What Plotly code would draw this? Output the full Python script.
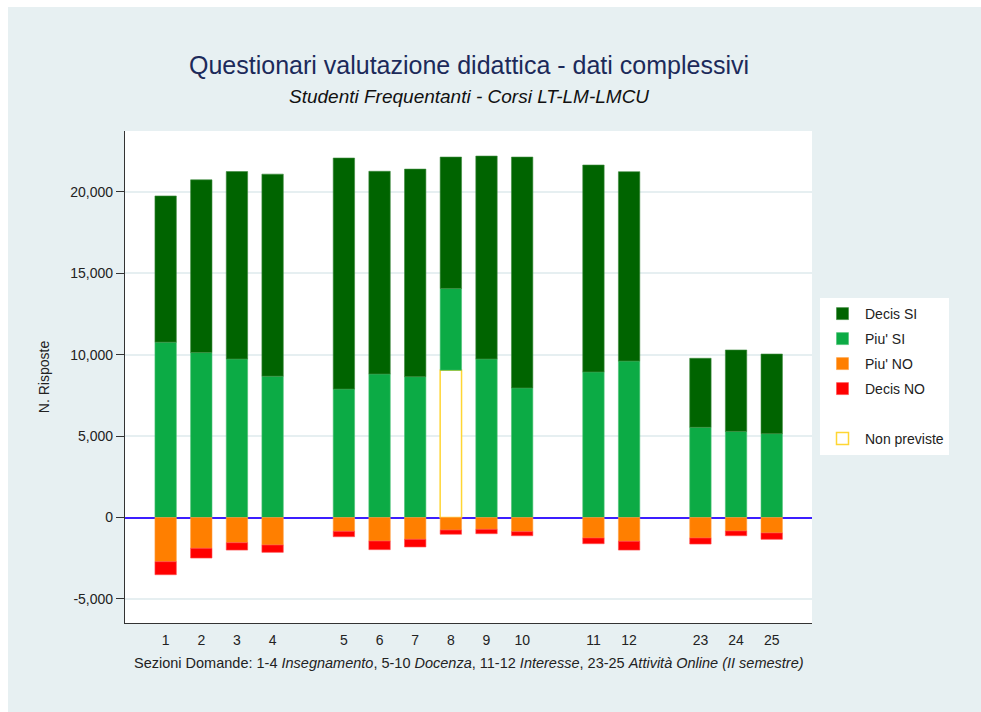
import plotly.graph_objects as go

# ---- data ----
questions = ["1", "2", "3", "4", "5", "6", "7", "8", "9", "10", "11", "12", "23", "24", "25"]
# numeric slots on the x axis (gaps between the sections)
slots = [1, 2, 3, 4, 6, 7, 8, 9, 10, 11, 13, 14, 16, 17, 18]

decis_si = [8980, 10610, 11510, 12410, 14190, 12450, 12750, 8070, 12460, 14180, 12710, 11630, 4240, 5000, 4890]
piu_si = [10770, 10130, 9740, 8680, 7890, 8815, 8650, 5020, 9740, 7960, 8940, 9610, 5540, 5290, 5150]
non_previste = [None, None, None, None, None, None, None, 9050, None, None, None, None, None, None, None]
piu_no = [-2715, -1890, -1550, -1690, -850, -1445, -1340, -770, -725, -870, -1260, -1460, -1260, -830, -950]
decis_no = [-800, -600, -450, -450, -330, -530, -470, -260, -270, -250, -350, -540, -370, -290, -390]

y_ticks = [-5000, 0, 5000, 10000, 15000, 20000]
y_ticktext = ["-5,000", "0", "5,000", "10,000", "15,000", "20,000"]

title_text = "Questionari valutazione didattica - dati complessivi"
subtitle_text = "Studenti Frequentanti - Corsi LT-LM-LMCU"
xaxis_text = ("Sezioni Domande: 1-4 <i>Insegnamento</i>, 5-10 <i>Docenza</i>, "
              "11-12 <i>Interesse</i>, 23-25 <i>Attività Online (II semestre)</i>")

# ---- figure ----
BG = "#e7f0f2"
OFFX, OFFY = 8, 7  # white page border (left, top)
W, H = 973, 705
ML, MR, MT, MB = 117, 169, 124, 89
PW, PH = W - ML - MR, H - MT - MB


def px_x(p):
    return (p - OFFX - ML) / PW


def px_y(p):
    return (H - MB - (p - OFFY)) / PH


FONT = "Liberation Sans, Arial, Helvetica, sans-serif"
TXT = "#222222"
BW = 0.6

fig = go.Figure()

fig.add_trace(go.Bar(x=slots, y=non_previste, name="Non previste", width=BW,
                     marker=dict(color="white", line=dict(color="#ffd633", width=1.5)),
                     legendrank=6, legendgroup="g6"))
fig.add_trace(go.Bar(x=slots, y=piu_si, name="Piu' SI", width=BW,
                     marker=dict(color="#0cab45", line=dict(color="#4cc275", width=0.6)),
                     legendrank=2, legendgroup="g2"))
fig.add_trace(go.Bar(x=slots, y=decis_si, name="Decis SI", width=BW,
                     marker=dict(color="#006400", line=dict(color="#3d8a3d", width=0.6)),
                     legendrank=1, legendgroup="g1"))
fig.add_trace(go.Bar(x=slots, y=piu_no, name="Piu' NO", width=BW,
                     marker=dict(color="#ff7f00", line=dict(color="#ff9f40", width=0.6)),
                     legendrank=3, legendgroup="g3"))
fig.add_trace(go.Bar(x=slots, y=decis_no, name="Decis NO", width=BW,
                     marker=dict(color="#ff0000", line=dict(color="#ff4d4d", width=0.6)),
                     legendrank=4, legendgroup="g4"))
# blank legend slot
fig.add_trace(go.Bar(x=[slots[0]], y=[None], name=" ", width=BW,
                     marker=dict(color="rgba(0,0,0,0)", line=dict(width=0)),
                     legendrank=5, legendgroup="g5", hoverinfo="skip"))

fig.update_layout(
    width=W, height=H,
    margin=dict(l=ML, r=MR, t=MT, b=MB),
    barmode="relative",
    paper_bgcolor=BG,
    plot_bgcolor="white",
    font=dict(family=FONT, size=14, color=TXT),
    showlegend=True,
    legend=dict(
        x=px_x(820), y=px_y(298), xanchor="left", yanchor="top",
        bgcolor="white", borderwidth=0,
        traceorder="grouped", tracegroupgap=3.8,
        itemwidth=35, entrywidth=100,
        font=dict(family=FONT, size=14, color=TXT),
    ),
    xaxis=dict(
        range=[-0.14, 19.13],
        tickvals=slots, ticktext=questions,
        ticks="", showgrid=False, zeroline=False,
        showline=True, linecolor="#333333", linewidth=1.2,
        tickfont=dict(size=14, color=TXT),
        ticklabelstandoff=4,
        fixedrange=True,
    ),
    yaxis=dict(
        range=[-6480, 23740],
        tickvals=y_ticks, ticktext=y_ticktext,
        ticks="outside", ticklen=8, tickcolor="#333333", tickwidth=1,
        showgrid=True, gridcolor="#e6eff1", gridwidth=1.5,
        zeroline=True, zerolinecolor="#3c1eff", zerolinewidth=2,
        showline=True, linecolor="#333333", linewidth=1.2,
        tickfont=dict(size=14, color=TXT),
        title=dict(text="N. Risposte", font=dict(size=14, color=TXT), standoff=17),
    ),
    annotations=[
        dict(text=title_text, xref="paper", yref="paper", x=px_x(468.5), y=px_y(65),
             xanchor="center", yanchor="middle", showarrow=False,
             font=dict(family=FONT, size=25, color="#1c2a5a")),
        dict(text="<i>" + subtitle_text + "</i>", xref="paper", yref="paper",
             x=px_x(468.5), y=px_y(96), xanchor="center", yanchor="middle", showarrow=False,
             font=dict(family=FONT, size=19, color="#111111")),
        dict(text=xaxis_text, xref="paper", yref="paper", x=px_x(468.5), y=px_y(663),
             xanchor="center", yanchor="middle", showarrow=False,
             font=dict(family=FONT, size=14.5, color=TXT)),
    ],
)

# page border as in the reference: white strip on the left and top only
fig.write_html("out.html", post_script="document.body.style.margin='7px 0 0 8px';")
